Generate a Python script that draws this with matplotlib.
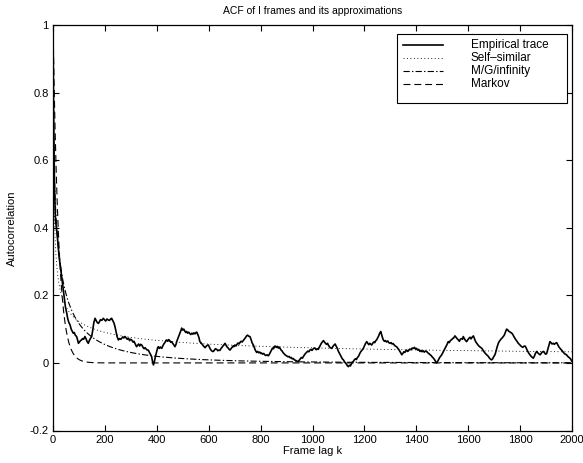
import numpy as np
import matplotlib
matplotlib.use("Agg")
import matplotlib.pyplot as plt
from matplotlib.lines import Line2D
from matplotlib.patches import Rectangle

plt.rcParams["font.family"] = ["Liberation Sans", "DejaVu Sans"]
plt.rcParams["axes.unicode_minus"] = False
plt.rcParams["lines.scale_dashes"] = False

# Empirical autocorrelation of the I-frame sequence
lags = [
    0, 1, 2, 3, 4, 5, 6, 8, 10, 13, 16, 20, 24, 27, 31, 35, 40, 44, 48, 53,
    57, 61, 66, 70, 74, 78, 82, 86, 91, 94, 98, 102, 106, 110, 114, 118, 123, 127, 131, 136,
    140, 144, 149, 153, 157, 162, 166, 170, 175, 179, 183, 188, 194, 198, 203, 208, 213, 218, 222, 226,
    230, 235, 239, 243, 247, 252, 256, 261, 265, 269, 273, 277, 282, 286, 291, 295, 299, 303, 308, 312,
    317, 322, 326, 330, 334, 338, 342, 347, 351, 355, 359, 363, 367, 371, 375, 380, 383, 387, 391, 395,
    399, 403, 406, 410, 414, 419, 423, 427, 431, 435, 438, 442, 446, 450, 454, 457, 461, 465, 470, 474,
    478, 482, 486, 490, 493, 496, 500, 504, 508, 512, 515, 519, 523, 527, 531, 535, 539, 543, 547, 551,
    554, 558, 562, 566, 570, 575, 580, 586, 590, 594, 599, 603, 607, 611, 615, 618, 622, 626, 631, 635,
    639, 643, 647, 651, 655, 659, 663, 667, 671, 675, 679, 682, 686, 690, 694, 697, 701, 705, 709, 713,
    717, 721, 725, 729, 733, 737, 741, 746, 750, 754, 759, 763, 767, 772, 776, 780, 785, 789, 793, 797,
    801, 804, 808, 812, 816, 820, 825, 830, 834, 838, 842, 846, 850, 853, 856, 860, 864, 868, 871, 875,
    879, 883, 887, 891, 894, 898, 902, 906, 910, 914, 918, 922, 926, 930, 934, 938, 942, 945, 949, 953,
    957, 961, 965, 969, 973, 977, 982, 986, 990, 994, 998, 1002, 1006, 1010, 1014, 1018, 1022, 1026, 1030, 1034,
    1038, 1042, 1046, 1050, 1054, 1058, 1061, 1065, 1069, 1074, 1078, 1082, 1087, 1091, 1095, 1100, 1104, 1108, 1112, 1115,
    1119, 1123, 1127, 1131, 1134, 1138, 1142, 1146, 1150, 1154, 1157, 1161, 1165, 1169, 1173, 1177, 1181, 1185, 1189, 1193,
    1196, 1200, 1204, 1209, 1213, 1217, 1221, 1225, 1228, 1232, 1236, 1240, 1244, 1247, 1251, 1255, 1259, 1263, 1266, 1270,
    1273, 1277, 1281, 1285, 1290, 1294, 1299, 1303, 1307, 1311, 1315, 1319, 1324, 1328, 1332, 1336, 1340, 1344, 1348, 1352,
    1356, 1360, 1363, 1367, 1371, 1375, 1380, 1384, 1389, 1393, 1397, 1401, 1405, 1409, 1414, 1418, 1422, 1426, 1431, 1435,
    1440, 1444, 1448, 1452, 1457, 1461, 1466, 1470, 1474, 1478, 1482, 1486, 1490, 1494, 1498, 1502, 1506, 1510, 1514, 1518,
    1523, 1527, 1531, 1535, 1540, 1544, 1549, 1553, 1557, 1562, 1566, 1570, 1574, 1578, 1581, 1585, 1590, 1594, 1598, 1602,
    1607, 1611, 1615, 1620, 1624, 1628, 1633, 1637, 1641, 1646, 1650, 1654, 1658, 1662, 1666, 1670, 1674, 1678, 1682, 1686,
    1690, 1694, 1698, 1703, 1707, 1711, 1716, 1720, 1724, 1728, 1731, 1735, 1739, 1743, 1748, 1752, 1756, 1760, 1764, 1768,
    1772, 1776, 1780, 1784, 1788, 1793, 1797, 1801, 1806, 1810, 1814, 1819, 1823, 1827, 1831, 1835, 1838, 1842, 1846, 1851,
    1855, 1859, 1864, 1868, 1872, 1877, 1881, 1885, 1890, 1894, 1898, 1902, 1906, 1910, 1915, 1919, 1923, 1928, 1932, 1936,
    1941, 1945, 1949, 1953, 1957, 1960, 1964, 1968, 1972, 1976, 1979, 1983, 1987, 1992, 1996, 2000,
]
acf = [
    1.00, 0.88, 0.78, 0.70, 0.63, 0.57, 0.52, 0.46, 0.42, 0.40, 0.38, 0.345, 0.31, 0.295, 0.27, 0.245, 0.216, 0.19, 0.165, 0.147,
    0.13, 0.12, 0.112, 0.100, 0.094, 0.088, 0.090, 0.082, 0.078, 0.070, 0.058, 0.062, 0.066, 0.068, 0.072, 0.070, 0.078, 0.072, 0.064, 0.058,
    0.066, 0.072, 0.078, 0.096, 0.118, 0.132, 0.126, 0.120, 0.117, 0.122, 0.128, 0.126, 0.132, 0.128, 0.124, 0.130, 0.127, 0.126, 0.130, 0.132,
    0.126, 0.118, 0.107, 0.092, 0.078, 0.068, 0.072, 0.070, 0.073, 0.077, 0.074, 0.078, 0.074, 0.070, 0.073, 0.066, 0.070, 0.068, 0.062, 0.064,
    0.056, 0.048, 0.052, 0.056, 0.050, 0.055, 0.053, 0.046, 0.042, 0.045, 0.041, 0.038, 0.038, 0.032, 0.026, 0.019, 0.006, -0.006, 0.005, 0.020,
    0.032, 0.044, 0.048, 0.043, 0.047, 0.043, 0.050, 0.056, 0.060, 0.066, 0.068, 0.064, 0.069, 0.066, 0.061, 0.063, 0.058, 0.054, 0.048, 0.055,
    0.066, 0.074, 0.082, 0.090, 0.096, 0.103, 0.097, 0.100, 0.094, 0.090, 0.093, 0.088, 0.091, 0.087, 0.084, 0.088, 0.085, 0.089, 0.086, 0.090,
    0.091, 0.084, 0.076, 0.063, 0.060, 0.055, 0.050, 0.045, 0.049, 0.052, 0.053, 0.046, 0.040, 0.036, 0.034, 0.034, 0.038, 0.042, 0.040, 0.036,
    0.038, 0.037, 0.042, 0.046, 0.050, 0.054, 0.058, 0.052, 0.047, 0.044, 0.040, 0.038, 0.042, 0.046, 0.050, 0.048, 0.053, 0.050, 0.055, 0.059,
    0.056, 0.061, 0.064, 0.062, 0.066, 0.070, 0.074, 0.080, 0.082, 0.079, 0.078, 0.070, 0.060, 0.053, 0.045, 0.037, 0.031, 0.034, 0.030, 0.032,
    0.028, 0.029, 0.026, 0.028, 0.024, 0.022, 0.024, 0.021, 0.026, 0.032, 0.038, 0.044, 0.042, 0.048, 0.050, 0.046, 0.049, 0.044, 0.047, 0.043,
    0.038, 0.035, 0.030, 0.027, 0.024, 0.022, 0.020, 0.018, 0.019, 0.015, 0.016, 0.012, 0.013, 0.009, 0.008, 0.006, 0.005, 0.004, 0.008, 0.012,
    0.016, 0.014, 0.019, 0.024, 0.028, 0.031, 0.035, 0.033, 0.038, 0.040, 0.037, 0.041, 0.044, 0.043, 0.039, 0.042, 0.040, 0.046, 0.052, 0.058,
    0.062, 0.066, 0.062, 0.058, 0.055, 0.058, 0.053, 0.048, 0.045, 0.043, 0.048, 0.052, 0.056, 0.050, 0.044, 0.034, 0.028, 0.022, 0.016, 0.012,
    0.009, 0.004, 0.000, -0.004, -0.008, -0.011, -0.007, -0.009, -0.003, 0.002, 0.004, 0.009, 0.012, 0.010, 0.016, 0.019, 0.026, 0.032, 0.036, 0.040,
    0.043, 0.050, 0.057, 0.063, 0.058, 0.054, 0.058, 0.055, 0.053, 0.058, 0.062, 0.060, 0.066, 0.068, 0.074, 0.080, 0.088, 0.093, 0.085, 0.074,
    0.068, 0.064, 0.066, 0.062, 0.065, 0.060, 0.058, 0.060, 0.056, 0.057, 0.053, 0.050, 0.048, 0.044, 0.040, 0.035, 0.030, 0.024, 0.028, 0.033,
    0.031, 0.036, 0.038, 0.034, 0.037, 0.041, 0.039, 0.044, 0.043, 0.046, 0.041, 0.043, 0.038, 0.040, 0.034, 0.037, 0.033, 0.036, 0.032, 0.035,
    0.034, 0.030, 0.028, 0.025, 0.022, 0.018, 0.014, 0.010, 0.005, 0.000, 0.004, 0.010, 0.016, 0.020, 0.024, 0.030, 0.036, 0.042, 0.048, 0.054,
    0.063, 0.060, 0.066, 0.068, 0.072, 0.074, 0.080, 0.076, 0.072, 0.068, 0.064, 0.070, 0.072, 0.070, 0.078, 0.072, 0.066, 0.063, 0.068, 0.072,
    0.076, 0.071, 0.076, 0.080, 0.072, 0.064, 0.058, 0.054, 0.050, 0.047, 0.045, 0.042, 0.036, 0.032, 0.028, 0.025, 0.022, 0.019, 0.014, 0.011,
    0.009, 0.012, 0.018, 0.024, 0.034, 0.046, 0.058, 0.064, 0.068, 0.072, 0.074, 0.078, 0.082, 0.090, 0.100, 0.098, 0.094, 0.092, 0.090, 0.088,
    0.084, 0.078, 0.073, 0.068, 0.064, 0.058, 0.055, 0.052, 0.048, 0.046, 0.049, 0.050, 0.045, 0.038, 0.032, 0.027, 0.024, 0.020, 0.017, 0.014,
    0.020, 0.028, 0.034, 0.030, 0.027, 0.024, 0.028, 0.032, 0.034, 0.030, 0.026, 0.027, 0.038, 0.050, 0.063, 0.060, 0.056, 0.058, 0.055, 0.058,
    0.060, 0.054, 0.048, 0.044, 0.040, 0.038, 0.034, 0.030, 0.027, 0.025, 0.024, 0.020, 0.017, 0.014, 0.010, 0.004,
]

# Fitted model parameters
ss_scale, ss_beta = 0.93, 0.44        # self-similar: c * k^(-beta)
mg_beta, mg_alpha = 0.286, 0.438      # M/G/infinity: exp(-beta * k^alpha)
mk_lambda = 0.046                     # Markov: exp(-lambda * k)

k = np.arange(0, 2001)
self_similar = np.where(k == 0, 1.0, ss_scale * np.maximum(k, 1) ** (-ss_beta))
mg_inf = np.exp(-mg_beta * k ** mg_alpha)
markov = np.exp(-mk_lambda * k)

W, H = 583, 463
fig = plt.figure(figsize=(W / 100, H / 100), dpi=100)
ax = fig.add_axes([53 / W, 1 - 430.5 / H, 519 / W, 405.5 / H])

solid_kw = dict(color="black", lw=1.2, linestyle="-")
dot_kw = dict(color="black", lw=0.6, linestyle=(0, (0.7, 1.8)))
dashdot_kw = dict(color="black", lw=0.8, linestyle=(0, (4.5, 1.6, 1.0, 1.6)))
dash_kw = dict(color="black", lw=0.8, linestyle=(0, (5.0, 2.8)))

ax.plot(lags, acf, **solid_kw)
ax.plot(k, self_similar, **dot_kw)
ax.plot(k, mg_inf, **dashdot_kw)
ax.plot(k, markov, **dash_kw)

ax.set_xlim(0, 2000)
ax.set_ylim(-0.2, 1.0)
ax.set_xticks(np.arange(0, 2001, 200))
ax.set_yticks([-0.2, 0, 0.2, 0.4, 0.6, 0.8, 1.0])
ax.set_yticklabels(["-0.2", "0", "0.2", "0.4", "0.6", "0.8", "1"])
ax.tick_params(direction="in", length=4, width=0.8, labelsize=8,
               top=True, right=True, pad=3)
for s in ax.spines.values():
    s.set_linewidth(0.9)

ax.set_title("ACF of I frames and its approximations", fontsize=7.5, pad=8)
ax.set_xlabel("Frame lag k", fontsize=8, labelpad=1)
ax.set_ylabel("Autocorrelation", fontsize=8, labelpad=9)

# Legend box drawn by hand
box = Rectangle((0.663, 0.808), 0.327, 0.170, transform=ax.transAxes,
                facecolor="white", edgecolor="black", lw=0.8, zorder=5)
ax.add_patch(box)
entries = [("Empirical trace", solid_kw), ("Self\u2013similar", dot_kw),
           ("M/G/infinity", dashdot_kw), ("Markov", dash_kw)]
ys = [0.951, 0.919, 0.887, 0.854]
for (label, kw), y in zip(entries, ys):
    ax.add_line(Line2D([0.674, 0.751], [y, y], transform=ax.transAxes,
                       zorder=6, **kw))
    ax.text(0.805, y, label, transform=ax.transAxes, fontsize=8.5,
            va="center", ha="left", zorder=6)

fig.savefig("out.png", dpi=100)
